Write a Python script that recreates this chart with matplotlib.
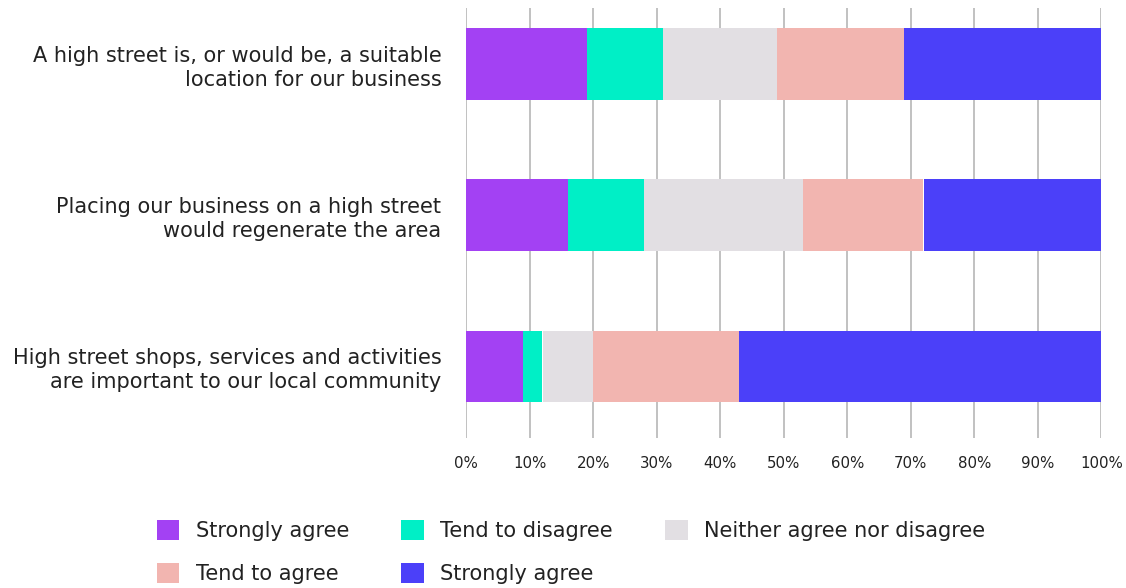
import matplotlib
matplotlib.use("Agg")
import matplotlib.pyplot as plt
from matplotlib.patches import Patch

plt.rcParams['font.family'] = ['DejaVu Sans']

statements = [
    "A high street is, or would be, a suitable\nlocation for our business",
    "Placing our business on a high street\nwould regenerate the area",
    "High street shops, services and activities\nare important to our local community",
]
series_labels = ["Strongly agree", "Tend to disagree", "Neither agree nor disagree",
                 "Tend to agree", "Strongly agree"]
series_values = [
    [19, 16, 9],    # Strongly agree
    [12, 12, 3],    # Tend to disagree
    [18, 25, 8],    # Neither agree nor disagree
    [20, 19, 23],   # Tend to agree
    [31, 28, 57],   # Strongly agree
]
colors = ["#A341F3", "#00EFC6", "#E2DFE3", "#F2B5B0", "#4B40F9"]
tick_values = [0, 10, 20, 30, 40, 50, 60, 70, 80, 90, 100]
tick_labels = [f"{v}%" for v in tick_values]

W, H = 1126, 588
fig = plt.figure(figsize=(W / 100, H / 100), dpi=100)
ax = fig.add_axes([466.3 / W, 1 - 438 / H, 635 / W, 430 / H])

ypos = list(range(len(statements)))
left = [0] * len(statements)
handles = []
for vals, col, lab in zip(series_values, colors, series_labels):
    ax.barh(ypos, vals, left=left, height=0.475, color=col, zorder=3)
    left = [l + v for l, v in zip(left, vals)]
    handles.append(Patch(facecolor=col, label=lab))

ax.set_xlim(0, 100)
ax.set_ylim(2.473, -0.371)
ax.set_xticks(tick_values)
ax.set_xticklabels(tick_labels, fontsize=10.8, color="#222222")
ax.set_yticks(ypos)
ax.set_yticklabels(statements, fontsize=15, color="#222222", linespacing=1.22)
ax.tick_params(axis="x", length=0, pad=13)
ax.tick_params(axis="y", length=0, pad=18)
ax.grid(axis="x", color="#B0B0B0", linewidth=1.1, zorder=0)
for s in ax.spines.values():
    s.set_visible(False)

# legend laid out row-wise: 3 columns, 2 rows
order = [0, 3, 1, 4, 2]
fig.legend([handles[i] for i in order], [series_labels[i] for i in order],
           ncol=3, loc="upper left", bbox_to_anchor=(142 / W, 1 - 505 / H),
           frameon=False, fontsize=15, handlelength=1.1, handleheight=1.1,
           handletextpad=0.77, columnspacing=2.5, labelspacing=1.09,
           labelcolor="#222222", borderpad=0.2)

fig.savefig("out.png", dpi=100)
